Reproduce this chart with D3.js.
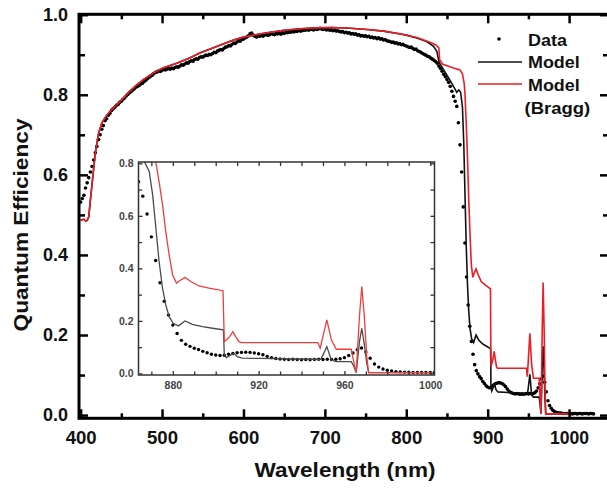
<!DOCTYPE html>
<html><head><meta charset="utf-8">
<script src="https://cdn.jsdelivr.net/npm/d3@7"></script>
<style>body{margin:0;background:#fff}svg{display:block}</style>
</head><body>
<svg id="c" width="607" height="490"></svg>
<script>
// ---- measured data (Data: dots every 2 nm starting at 400 nm) ----
const dataStart = 400, dataStep = 2;
const dataQE = [0.532,
 0.541,0.549,0.567,0.580,0.593,0.607,0.621,0.637,0.655,0.671,
 0.688,0.700,0.714,0.723,0.735,0.740,0.749,0.754,0.761,0.765,
 0.769,0.774,0.776,0.781,0.784,0.789,0.792,0.797,0.801,0.805,
 0.808,0.812,0.815,0.819,0.821,0.823,0.827,0.829,0.833,0.836,
 0.840,0.843,0.846,0.849,0.853,0.856,0.857,0.860,0.858,0.861,
 0.863,0.862,0.864,0.866,0.864,0.867,0.865,0.868,0.870,0.869,
 0.872,0.875,0.874,0.877,0.880,0.879,0.883,0.885,0.884,0.888,
 0.890,0.889,0.893,0.895,0.894,0.897,0.899,0.898,0.901,0.900,
 0.903,0.906,0.905,0.909,0.911,0.913,0.912,0.916,0.919,0.920,
 0.923,0.922,0.926,0.929,0.928,0.932,0.935,0.934,0.938,0.939,
 0.942,0.944,0.947,0.952,0.954,0.949,0.946,0.944,0.947,0.946,
 0.948,0.946,0.949,0.951,0.948,0.950,0.953,0.951,0.950,0.953,
 0.952,0.954,0.951,0.955,0.953,0.956,0.955,0.957,0.956,0.958,
 0.957,0.959,0.958,0.961,0.959,0.960,0.962,0.961,0.963,0.961,
 0.963,0.964,0.962,0.965,0.963,0.964,0.966,0.964,0.963,0.965,
 0.962,0.963,0.961,0.962,0.960,0.961,0.959,0.960,0.958,0.957,
 0.958,0.955,0.956,0.954,0.955,0.952,0.953,0.951,0.952,0.949,
 0.950,0.947,0.948,0.946,0.947,0.945,0.946,0.943,0.944,0.942,
 0.943,0.940,0.942,0.939,0.940,0.937,0.938,0.935,0.934,0.933,
 0.931,0.932,0.929,0.930,0.927,0.928,0.925,0.926,0.923,0.922,
 0.920,0.918,0.919,0.916,0.913,0.914,0.910,0.908,0.906,0.903,
 0.901,0.899,0.896,0.895,0.892,0.889,0.886,0.883,0.879,0.872,
 0.866,0.859,0.851,0.845,0.838,0.831,0.821,0.809,0.796,0.784,
 0.771,0.730,0.675,0.607,0.520,0.430,0.345,0.275,0.222,0.184,
 0.152,0.126,0.111,0.103,0.096,0.091,0.084,0.079,0.073,0.070,
 0.068,0.069,0.073,0.076,0.079,0.080,0.081,0.080,0.078,0.075,
 0.071,0.065,0.060,0.057,0.055,0.054,0.053,0.054,0.053,0.052,
 0.053,0.052,0.053,0.054,0.053,0.054,0.053,0.054,0.056,0.060,
 0.068,0.078,0.090,0.097,0.082,0.058,0.036,0.024,0.017,0.012,
 0.009,0.007,0.006,0.005,0.005,0.004,0.004,0.004,0.004,0.004,
 0.004,0.003,0.004,0.004,0.003,0.004,0.004,0.003,0.004,0.004,
 0.004,0.003,0.004,0.004,0.003];

// Model (black)
const modelWl = [400,404,406,408,410,412,415,418,422,426,431,436,444,452,460,469,477,489,501,518,534,547,560,575,588,600,615,629,650,670,690,710,731,752,772,793,
 800,813,825,833.5,837.6,839.6,841,845.8,852,858,862,864.5,866.7,869,870.6,872.1,873.6,875.2,876.7,878.3,880.2,882.6,885.7,889.1,893.8,898.5,903.6,904,905,907,908.5,910.1,912.4,920,946.8,949,951.8,953.9,956.2,963.2,964.2,965.5,967,968.1,969.3,970.4,971.3,1001];
const modelQE = [0.487,0.489,0.485,0.486,0.495,0.537,0.596,0.654,0.704,0.729,0.746,0.758,0.775,0.790,0.808,0.825,0.838,0.854,0.867,0.879,0.892,0.905,0.915,0.927,0.937,0.944,0.950,0.955,0.961,0.965,0.967,0.968,0.966,0.963,0.959,0.952,
 0.949,0.942,0.933,0.921,0.908,0.8875,0.879,0.8625,0.842,0.821,0.806,0.812,0.807,0.769,0.680,0.553,0.426,0.325,0.261,0.216,0.191,0.181,0.200,0.187,0.178,0.172,0.166,0.070,0.060,0.070,0.077,0.064,0.058,0.057,0.054,0.054,0.102,0.051,0.045,0.045,0.030,0.003,0.120,0.172,0.110,0.039,0.003,0.003];

// Model (Bragg) (red)
const braggWl = [400,404,406,408,410,412,415,418,422,426,431,436,444,452,460,469,477,489,501,518,534,547,560,575,588,600,615,629,650,670,690,710,731,752,772,793,813,829,836,840,841,845,858,866,869,871,872,873.6,875.2,876.7,878.3,879.9,881.7,883.7,885.7,888.4,892.2,896.9,903.4,904,905,906.5,908,909.3,910.8,912,947.6,948.7,951.8,953.9,956.2,963.2,964.2,965.5,967,968.1,969.3,970.4,971.3,1001];
const braggQE = [0.487,0.489,0.485,0.486,0.495,0.537,0.596,0.654,0.704,0.729,0.746,0.758,0.775,0.790,0.808,0.825,0.838,0.854,0.867,0.879,0.892,0.905,0.915,0.927,0.937,0.944,0.950,0.955,0.961,0.965,0.967,0.968,0.966,0.963,0.959,0.952,0.943,0.931,0.925,0.917,0.887,0.876,0.867,0.862,0.852,0.830,0.807,0.730,0.642,0.540,0.451,0.375,0.344,0.356,0.365,0.350,0.333,0.325,0.315,0.121,0.128,0.140,0.159,0.140,0.121,0.117,0.117,0.096,0.204,0.128,0.092,0.092,0.051,0.003,0.216,0.331,0.216,0.064,0.003,0.003];

// ticks
const xTicks = [400,500,600,700,800,900,1000];
const xMinor = [450,550,650,750,850,950,1050];
const yTicks = [0.0,0.2,0.4,0.6,0.8,1.0];
const yMinor = [0.1,0.3,0.5,0.7,0.9];
const insetXTicks = [880,920,960,1000];
const insetXMinor = [870,890,900,910,930,940,950,970,980,990];
const insetYTicks = [0.0,0.2,0.4,0.6,0.8];
const insetYMinor = [0.1,0.3,0.5,0.7];
const legendLabels = ["Data","Model","Model","(Bragg)"];

const dataPts = dataQE.map((v,i)=>({w:dataStart+i*dataStep, v}));
const modelPts = modelWl.map((w,i)=>({w, v:modelQE[i]}));
const braggPts = braggWl.map((w,i)=>({w, v:braggQE[i]}));

const FONT = "'Liberation Sans', Arial, sans-serif";
const svg = d3.select("#c");

// ---------- main chart ----------
const x = d3.scaleLinear().domain([398,1049]).range([79,609]);
const y = d3.scaleLinear().domain([-0.008,1.001]).range([418.3,14.3]);

svg.append("clipPath").attr("id","mclip").append("rect")
  .attr("x",79).attr("y",14.3).attr("width",530).attr("height",404);

const main = svg.append("g").attr("clip-path","url(#mclip)");
main.selectAll("circle.d").data(dataPts).join("circle").attr("class","d")
  .attr("cx",d=>x(d.w)).attr("cy",d=>y(d.v)).attr("r",1.8).attr("fill","#000");
const line = d3.line().x(d=>x(d.w)).y(d=>y(d.v));
main.append("path").datum(modelPts).attr("d",line).attr("fill","none")
  .attr("stroke","#111").attr("stroke-width",1.6);
main.append("path").datum(braggPts).attr("d",line).attr("fill","none")
  .attr("stroke","#ee1c24").attr("stroke-width",1.6);

function styleAxis(g, sw){
  g.select(".domain").remove();
  g.selectAll(".tick line").attr("stroke","#000").attr("stroke-width",sw);
}
// bottom
const gb = svg.append("g").attr("transform","translate(0,418.3)")
  .call(d3.axisBottom(x).tickValues(xTicks).tickSizeInner(-9).tickSizeOuter(0).tickPadding(13).tickFormat(d3.format("d")));
styleAxis(gb,2.5);
gb.selectAll("text").attr("font-family",FONT).attr("font-weight","bold").attr("font-size","17.5px").attr("fill","#111")
  .attr("textLength",d=>d>=1000?39:31).attr("lengthAdjust","spacingAndGlyphs");
const gbm = svg.append("g").attr("transform","translate(0,418.3)")
  .call(d3.axisBottom(x).tickValues(xMinor).tickSizeInner(-5).tickSizeOuter(0).tickFormat(""));
styleAxis(gbm,2.5);
// top
const gt = svg.append("g").attr("transform","translate(0,14.3)")
  .call(d3.axisTop(x).tickValues(xTicks).tickSizeInner(-9).tickSizeOuter(0).tickFormat(""));
styleAxis(gt,2.5);
const gtm = svg.append("g").attr("transform","translate(0,14.3)")
  .call(d3.axisTop(x).tickValues(xMinor).tickSizeInner(-5).tickSizeOuter(0).tickFormat(""));
styleAxis(gtm,2.5);
// left
const gl = svg.append("g").attr("transform","translate(79,0)")
  .call(d3.axisLeft(y).tickValues(yTicks).tickSizeInner(-9).tickSizeOuter(0).tickPadding(11).tickFormat(d3.format(".1f")));
styleAxis(gl,2.5);
gl.selectAll("text").attr("font-family",FONT).attr("font-weight","bold").attr("font-size","17.5px").attr("fill","#111")
  .attr("textLength",25).attr("lengthAdjust","spacingAndGlyphs");
const glm = svg.append("g").attr("transform","translate(79,0)")
  .call(d3.axisLeft(y).tickValues(yMinor).tickSizeInner(-6).tickSizeOuter(0).tickFormat(""));
styleAxis(glm,2.5);
// right
const gr = svg.append("g").attr("transform","translate(609,0)")
  .call(d3.axisRight(y).tickValues(yTicks).tickSizeInner(-9).tickSizeOuter(0).tickFormat(""));
styleAxis(gr,2.5);
const grm = svg.append("g").attr("transform","translate(609,0)")
  .call(d3.axisRight(y).tickValues(yMinor).tickSizeInner(-6).tickSizeOuter(0).tickFormat(""));
styleAxis(grm,2.5);

// frame
svg.append("rect").attr("x",79).attr("y",14.3).attr("width",530).attr("height",404)
  .attr("fill","none").attr("stroke","#000").attr("stroke-width",3);

// titles
svg.append("text").attr("x",345).attr("y",477).attr("text-anchor","middle")
  .attr("font-family",FONT).attr("font-weight","bold").attr("font-size","19.5px").attr("fill","#111")
  .attr("textLength",181).attr("lengthAdjust","spacingAndGlyphs").text("Wavelength (nm)");
svg.append("text").attr("transform","translate(27.5,225) rotate(-90)").attr("text-anchor","middle")
  .attr("font-family",FONT).attr("font-weight","bold").attr("font-size","21px").attr("fill","#111")
  .attr("textLength",213).attr("lengthAdjust","spacingAndGlyphs").text("Quantum Efficiency");

// legend
const lg = svg.append("g");
lg.append("circle").attr("cx",499).attr("cy",39).attr("r",1.8).attr("fill","#000");
lg.append("line").attr("x1",478).attr("x2",522).attr("y1",62).attr("y2",62).attr("stroke","#111").attr("stroke-width",1.6);
lg.append("line").attr("x1",478).attr("x2",522).attr("y1",84).attr("y2",84).attr("stroke","#ee1c24").attr("stroke-width",1.6);
const legPos = [[528,45.5,39],[528,68.3,51.7],[528,90.7,51.7],[524.5,113.5,65.7]];
legendLabels.forEach((t,i)=>{
  lg.append("text").attr("x",legPos[i][0]).attr("y",legPos[i][1])
    .attr("font-family",FONT).attr("font-weight","bold").attr("font-size","16.3px").attr("fill","#111")
    .attr("textLength",legPos[i][2]).attr("lengthAdjust","spacingAndGlyphs").text(t);
});

// ---------- inset ----------
const ix = d3.scaleLinear().domain([864,1002]).range([138.5,434.5]);
const iy = d3.scaleLinear().domain([-0.006,0.805]).range([375,162]);
const inset = svg.append("g");
inset.append("rect").attr("x",138.5).attr("y",162).attr("width",296).attr("height",213).attr("fill","#fff");
svg.append("clipPath").attr("id","iclip").append("rect")
  .attr("x",138.5).attr("y",162).attr("width",296).attr("height",213);
const ig = inset.append("g").attr("clip-path","url(#iclip)");
const iline = d3.line().x(d=>ix(d.w)).y(d=>iy(d.v));
ig.selectAll("circle").data(dataPts.filter(d=>d.w>=862)).join("circle")
  .attr("cx",d=>ix(d.w)).attr("cy",d=>iy(d.v)).attr("r",1.7).attr("fill","#000");
ig.append("path").datum(modelPts).attr("d",iline).attr("fill","none").attr("stroke","#4a4a4a").attr("stroke-width",1.3);
ig.append("path").datum(braggPts).attr("d",iline).attr("fill","none").attr("stroke","#f03c3c").attr("stroke-width",1.3);

function styleInset(g){
  g.select(".domain").remove();
  g.selectAll(".tick line").attr("stroke","#333").attr("stroke-width",1.3);
  g.selectAll("text").attr("font-family",FONT).attr("font-weight","bold").attr("font-size","10.5px").attr("fill","#444");
}
const ixAll = insetXTicks.concat(insetXMinor);
const iyAll = insetYTicks.concat(insetYMinor);
styleInset(inset.append("g").attr("transform","translate(0,375)")
  .call(d3.axisBottom(ix).tickValues(insetXTicks).tickSizeInner(-4).tickSizeOuter(0).tickPadding(7).tickFormat(d3.format("d"))));
styleInset(inset.append("g").attr("transform","translate(0,375)")
  .call(d3.axisBottom(ix).tickValues(insetXMinor).tickSizeInner(-3.5).tickSizeOuter(0).tickFormat("")));
styleInset(inset.append("g").attr("transform","translate(0,162)")
  .call(d3.axisTop(ix).tickValues(ixAll).tickSizeInner(-4).tickSizeOuter(0).tickFormat("")));
styleInset(inset.append("g").attr("transform","translate(138.5,0)")
  .call(d3.axisLeft(iy).tickValues(insetYTicks).tickSizeInner(-4).tickSizeOuter(0).tickPadding(5).tickFormat(d3.format(".1f"))));
styleInset(inset.append("g").attr("transform","translate(138.5,0)")
  .call(d3.axisLeft(iy).tickValues(insetYMinor).tickSizeInner(-3.5).tickSizeOuter(0).tickFormat("")));
styleInset(inset.append("g").attr("transform","translate(434.5,0)")
  .call(d3.axisRight(iy).tickValues(iyAll).tickSizeInner(-4).tickSizeOuter(0).tickFormat("")));
inset.append("rect").attr("x",138.5).attr("y",162).attr("width",296).attr("height",213)
  .attr("fill","none").attr("stroke","#333").attr("stroke-width",1.5);
</script>
</body></html>
